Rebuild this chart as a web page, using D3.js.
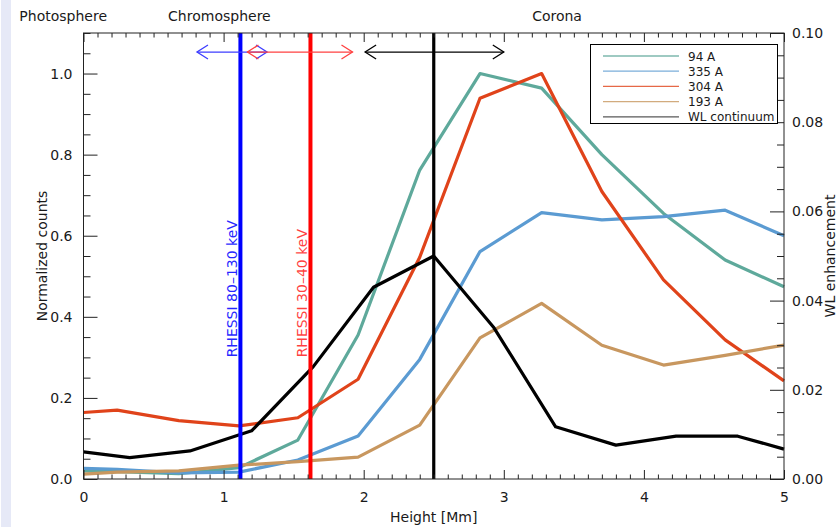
<!DOCTYPE html>
<html>
<head>
<meta charset="utf-8">
<script src="https://cdn.jsdelivr.net/npm/d3@7"></script>
<style>
  body { margin: 0; background: #fff; }
  svg { display: block; }
  text { font-family: "DejaVu Sans", sans-serif; fill: #1a1a1a; }
</style>
</head>
<body>
<svg id="chart" width="839" height="527"></svg>
<script>
// ---------------- data ----------------
const heightsAIA = [0, 0.24, 0.68, 1.11, 1.53, 1.96, 2.40, 2.83, 3.27, 3.70, 4.14, 4.58, 5.0];
const aia94  = [0.020, 0.018, 0.013, 0.028, 0.096, 0.355, 0.762, 1.000, 0.964, 0.800, 0.655, 0.540, 0.474];
const aia335 = [0.026, 0.024, 0.015, 0.017, 0.047, 0.106, 0.295, 0.561, 0.657, 0.639, 0.647, 0.663, 0.600];
const aia304 = [0.164, 0.170, 0.144, 0.131, 0.151, 0.246, 0.547, 0.939, 1.000, 0.709, 0.491, 0.343, 0.242];
const aia193 = [0.012, 0.017, 0.020, 0.034, 0.043, 0.054, 0.133, 0.348, 0.433, 0.330, 0.281, 0.305, 0.330];
const heightsWL = [0, 0.33, 0.76, 1.20, 1.64, 2.07, 2.50, 2.93, 3.37, 3.80, 4.23, 4.67, 5.0];
const wlEnh = [0.0061, 0.0048, 0.0063, 0.0108, 0.0252, 0.0430, 0.0500, 0.0339, 0.0117, 0.0076, 0.0096, 0.0096, 0.0067];

const seriesNames = ["94 A", "335 A", "304 A", "193 A", "WL continuum"];
const seriesColors = ["#5ea99b", "#5b9bd2", "#e0431a", "#c8975f", "#000000"];

const xTicks = [0, 1, 2, 3, 4, 5];
const yLeftTicks = [0, 0.2, 0.4, 0.6, 0.8, 1.0];
const yRightTicks = [0, 0.02, 0.04, 0.06, 0.08, 0.10];

const rhessiHeights = [1.12, 1.62];
const rhessiLabels = ["RHESSI 80\u2013130 keV", "RHESSI 30\u201340 keV"];
const rhessiColors = ["#0000ff", "#ff0000"];
const footpointHeight = 2.5;

const arrowRanges = [[0.81, 1.31], [1.17, 1.92], [2.01, 3.0]];
const arrowColors = ["#3c3cff", "#ff4040", "#000000"];
const arrowLevel = 1.053;

const regionNames = ["Photosphere", "Chromosphere", "Corona"];
const regionCenters = [-0.145, 0.97, 3.38];

// ---------------- layout ----------------
const svg = d3.select("#chart");
const L = 83.5, R = 784, T = 33, B = 479;
const x = d3.scaleLinear().domain([0, 5]).range([L, R]);
const yL = d3.scaleLinear().domain([0, 1.1]).range([B, T]);
const yR = d3.scaleLinear().domain([0, 0.1]).range([B, T]);

// light strip at left edge
svg.append("rect").attr("x", 1).attr("y", 0).attr("width", 10).attr("height", 527).attr("fill", "#e6e9f7");

// ---------------- curves ----------------
const lineL = (hs) => d3.line().x((d, i) => x(hs[i])).y(d => yL(d));
const lineR = (hs) => d3.line().x((d, i) => x(hs[i])).y(d => yR(d));
const aiaSeries = [aia94, aia335, aia304, aia193];
const plot = svg.append("g");
aiaSeries.forEach((s, k) => {
  plot.append("path").datum(s).attr("d", lineL(heightsAIA))
    .attr("fill", "none").attr("stroke", seriesColors[k]).attr("stroke-width", 3.2)
    .attr("stroke-linejoin", "round");
});
plot.append("path").datum(wlEnh).attr("d", lineR(heightsWL))
  .attr("fill", "none").attr("stroke", seriesColors[4]).attr("stroke-width", 3.2)
  .attr("stroke-linejoin", "round");

// ---------------- vertical lines ----------------
rhessiHeights.forEach((h, k) => {
  svg.append("line").attr("x1", x(h)).attr("x2", x(h)).attr("y1", yL(0)).attr("y2", yL(1.1))
    .attr("stroke", rhessiColors[k]).attr("stroke-width", 4);
  svg.append("text")
    .attr("transform", `translate(${x(h) - 3},${yL(0.30)}) rotate(-90)`)
    .attr("font-size", 14).style("fill", rhessiColors[k]).attr("opacity", k === 0 ? 0.85 : 0.75)
    .text(rhessiLabels[k]);
});
svg.append("line").attr("x1", x(footpointHeight)).attr("x2", x(footpointHeight))
  .attr("y1", yL(0)).attr("y2", yL(1.1)).attr("stroke", "#000").attr("stroke-width", 3.2);

// ---------------- arrows ----------------
arrowRanges.forEach((r, k) => {
  const g = svg.append("g").attr("stroke", arrowColors[k]).attr("stroke-width", 1.3).attr("fill", "none");
  const y0 = yL(arrowLevel), x0 = x(r[0]), x1 = x(r[1]);
  g.append("line").attr("x1", x0).attr("x2", x1).attr("y1", y0).attr("y2", y0);
  g.append("path").attr("d", `M${x0 + 11},${y0 - 7}L${x0},${y0}L${x0 + 11},${y0 + 7}`);
  g.append("path").attr("d", `M${x1 - 11},${y0 - 7}L${x1},${y0}L${x1 - 11},${y0 + 7}`);
});

// ---------------- axes ----------------
function styleAxis(g) {
  g.select(".domain").remove();
  g.selectAll(".tick line").attr("stroke", "#222");
  g.selectAll(".tick text").attr("font-size", 14).attr("font-family", "DejaVu Sans, sans-serif").style("fill", "#1a1a1a");
}
const xMinor = d3.range(0, 50.5, 1).map(v => v / 10).filter(v => !xTicks.includes(v));
const yLMinor = d3.range(0, 22.5, 1).map(v => v / 20).filter(v => Math.abs(v * 5 - Math.round(v * 5)) > 1e-6);
const yRMinor = d3.range(0, 20.5, 1).map(v => v / 200).filter(v => Math.abs(v * 50 - Math.round(v * 50)) > 1e-6);

svg.append("g").attr("transform", `translate(0,${B})`)
  .call(d3.axisBottom(x).tickValues(xTicks).tickFormat(d3.format("d")).tickSize(-9).tickPadding(13)).call(styleAxis);
svg.append("g").attr("transform", `translate(0,${B})`)
  .call(d3.axisBottom(x).tickValues(xMinor).tickFormat("").tickSize(-4.5)).call(styleAxis);
svg.append("g").attr("transform", `translate(0,${T})`)
  .call(d3.axisTop(x).tickValues(xTicks).tickFormat("").tickSize(-9)).call(styleAxis);
svg.append("g").attr("transform", `translate(0,${T})`)
  .call(d3.axisTop(x).tickValues(xMinor).tickFormat("").tickSize(-4.5)).call(styleAxis);

svg.append("g").attr("transform", `translate(${L},0)`)
  .call(d3.axisLeft(yL).tickValues(yLeftTicks).tickFormat(d3.format(".1f")).tickSize(-14).tickPadding(11)).call(styleAxis);
svg.append("g").attr("transform", `translate(${L},0)`)
  .call(d3.axisLeft(yL).tickValues(yLMinor).tickFormat("").tickSize(-7)).call(styleAxis);

svg.append("g").attr("transform", `translate(${R},0)`)
  .call(d3.axisRight(yR).tickValues(yRightTicks).tickFormat(d3.format(".2f")).tickSize(-14).tickPadding(8)).call(styleAxis);
svg.append("g").attr("transform", `translate(${R},0)`)
  .call(d3.axisRight(yR).tickValues(yRMinor).tickFormat("").tickSize(-7)).call(styleAxis);

// frame
svg.append("rect").attr("x", L).attr("y", T).attr("width", R - L).attr("height", B - T)
  .attr("fill", "none").attr("stroke", "#222").attr("stroke-width", 1);

// axis titles
svg.append("text").attr("x", (L + R) / 2).attr("y", 522).attr("text-anchor", "middle").attr("font-size", 14)
  .text("Height [Mm]");
svg.append("text").attr("transform", `translate(47,${(T + B) / 2}) rotate(-90)`).attr("text-anchor", "middle")
  .attr("font-size", 14).text("Normalized counts");
svg.append("text").attr("transform", `translate(835,${(T + B) / 2}) rotate(-90)`).attr("text-anchor", "middle")
  .attr("font-size", 14).text("WL enhancement");

// region labels
regionNames.forEach((n, k) => {
  svg.append("text").attr("x", x(regionCenters[k])).attr("y", 21).attr("text-anchor", "middle")
    .attr("font-size", 14).text(n);
});

// ---------------- legend ----------------
const lg = svg.append("g");
lg.append("rect").attr("x", 590.5).attr("y", 44.5).attr("width", 187).attr("height", 79)
  .attr("fill", "#fff").attr("stroke", "#000").attr("stroke-width", 1);
seriesNames.forEach((n, k) => {
  const yy = 56 + k * 15.2;
  lg.append("line").attr("x1", 603).attr("x2", 679).attr("y1", yy).attr("y2", yy)
    .attr("stroke", seriesColors[k]).attr("stroke-width", 1.3).attr("opacity", k === 4 ? 0.65 : 0.8);
  lg.append("text").attr("x", 688).attr("y", yy + 4.5).attr("font-size", 12).text(n);
});
</script>
</body>
</html>
